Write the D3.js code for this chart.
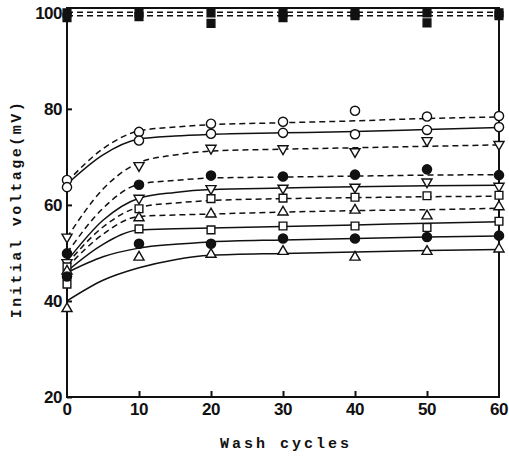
<!DOCTYPE html>
<html><head><meta charset="utf-8">
<script src="https://cdn.jsdelivr.net/npm/d3@7"></script>
<style>body{margin:0;background:#fff}svg{display:block}</style>
</head><body>
<script>
const xCycles = [0,10,20,30,40,50,60];
const fitX    = [0,5,10,15,20,30,40,50,60];
const yTicks = [20,40,60,80,100];
const xTicks = [0,10,20,30,40,50,60];

// measured points
const circDashPts   = [65.2,75.2,76.9,77.3,79.6,78.4,78.5];
const circSolidPts  = [63.7,73.4,74.8,75.0,74.7,75.6,76.2];
const triDnDashPts  = [53.3,68.2,71.8,71.7,71.1,73.4,72.6];
const dotDashPts    = [49.9,64.2,66.1,65.9,66.3,67.4,66.2];
const triDnSolidPts = [48.0,61.4,63.4,63.5,63.7,64.8,63.9];
const sqDashPts     = [47.1,59.2,61.3,61.4,61.6,61.9,62.0];
const triUpDashPts  = [46.2,57.3,58.1,58.5,58.9,57.7,59.6];
const sqSolidPts    = [43.5,55.0,54.8,55.6,55.6,55.3,56.6];
const dotSolidPts   = [45.1,51.9,51.9,53.0,53.0,53.3,53.6];
const triUpSolidPts = [38.4,49.1,49.7,50.3,49.1,50.3,50.8];
const topAPts       = [100.0,100.0,100.0,100.0,100.0,100.0,100.0];
const topBPts       = [99.0,99.2,97.8,99.0,99.4,97.9,99.4];

// fitted curves (read at fitX)
const circDashFit   = [64.8,71.7,75.4,76.2,76.7,77.1,77.5,78.0,78.3];
const circSolidFit  = [64.3,70.4,73.7,74.35,74.7,75.0,75.3,75.7,76.1];
const triDnDashFit  = [53.2,63.3,68.8,70.4,71.2,71.6,71.9,72.2,72.5];
const dotDashFit    = [50.0,59.3,64.3,65.1,65.6,65.8,66.0,66.2,66.3];
const triDnSolidFit = [48.3,56.8,61.4,62.6,63.2,63.5,63.8,64.0,64.1];
const sqDashFit     = [47.7,55.4,59.5,60.4,60.9,61.3,61.5,61.7,61.8];
const triUpDashFit  = [47.0,53.9,57.6,57.9,58.1,58.5,58.8,59.0,59.3];
const sqSolidFit    = [46.2,51.8,54.8,55.05,55.2,55.5,55.8,56.2,56.5];
const dotSolidFit   = [45.9,49.2,51.0,51.8,52.3,52.7,53.0,53.3,53.5];
const triUpSolidFit = [40.0,44.3,46.9,48.6,49.5,49.9,50.2,50.5,50.7];
const topAFit       = [100.1,100.1,100.1,100.1,100.1,100.1,100.1,100.1,100.1];
const topBFit       = [99.4,99.4,99.4,99.4,99.4,99.4,99.4,99.4,99.4];

const series = [
  {pts:circDashPts,   fit:circDashFit,   m:"circle", filled:false, dash:true},
  {pts:circSolidPts,  fit:circSolidFit,  m:"circle", filled:false, dash:false},
  {pts:triDnDashPts,  fit:triDnDashFit,  m:"tridown",filled:false, dash:true},
  {pts:dotDashPts,    fit:dotDashFit,    m:"circle", filled:true,  dash:true},
  {pts:triDnSolidPts, fit:triDnSolidFit, m:"tridown",filled:false, dash:false},
  {pts:sqDashPts,     fit:sqDashFit,     m:"square", filled:false, dash:true},
  {pts:triUpDashPts,  fit:triUpDashFit,  m:"triup",  filled:false, dash:true},
  {pts:sqSolidPts,    fit:sqSolidFit,    m:"square", filled:false, dash:false},
  {pts:dotSolidPts,   fit:dotSolidFit,   m:"circle", filled:true,  dash:false},
  {pts:triUpSolidPts, fit:triUpSolidFit, m:"triup",  filled:false, dash:false},
  {pts:topAPts,       fit:topAFit,       m:"square", filled:true,  dash:true},
  {pts:topBPts,       fit:topBFit,       m:"square", filled:true,  dash:true}
];

const W=509,H=457;
const svg=d3.select("body").append("svg").attr("width",W).attr("height",H);
const x=d3.scaleLinear().domain([0,60]).range([67,499]);
const y=d3.scaleLinear().domain([20,101]).range([397,8]);
const ink="#111";

// lines
const line=d3.line().x((d,i)=>x(fitX[i])).y(d=>y(d)).curve(d3.curveMonotoneX);
series.forEach(s=>{
  svg.append("path").attr("d",line(s.fit)).attr("fill","none")
    .attr("stroke",ink).attr("stroke-width",1.5)
    .attr("stroke-dasharray",s.dash?"6,4":null);
});

// frame
svg.append("rect").attr("x",x(0)).attr("y",y(101)).attr("width",x(60)-x(0)).attr("height",y(20)-y(101))
  .attr("fill","none").attr("stroke",ink).attr("stroke-width",2);

// axes
const yAx=d3.axisRight(y).tickValues(yTicks).tickSize(5).tickFormat("");
svg.append("g").attr("transform",`translate(${x(0)},0)`).call(yAx)
  .call(g=>g.select(".domain").remove()).selectAll("line").attr("stroke",ink).attr("stroke-width",2);
const xAx=d3.axisTop(x).tickValues(xTicks.slice(1,-1)).tickSize(6).tickFormat("");
svg.append("g").attr("transform",`translate(0,${y(20)})`).call(xAx)
  .call(g=>g.select(".domain").remove()).selectAll("line").attr("stroke",ink).attr("stroke-width",2);

// tick labels
svg.append("g").selectAll("text").data(yTicks).join("text")
  .attr("x",x(0)-5).attr("y",d=>y(d)).attr("dy","0.36em").attr("text-anchor","end")
  .attr("font-family","Liberation Sans, Arial, sans-serif").attr("font-size",17).attr("font-weight","bold")
  .attr("fill",ink).attr("letter-spacing",-0.5).text(d=>d);
svg.append("g").selectAll("text").data(xTicks).join("text")
  .attr("x",d=>x(d)).attr("y",y(20)+18).attr("text-anchor","middle")
  .attr("font-family","Liberation Sans, Arial, sans-serif").attr("font-size",17).attr("font-weight","bold")
  .attr("fill",ink).attr("letter-spacing",-0.5).text(d=>d);

// titles
svg.append("text").attr("x",286).attr("y",448).attr("text-anchor","middle")
  .attr("font-family","Liberation Mono, Courier New, monospace").attr("font-size",15).attr("font-weight","bold")
  .attr("letter-spacing",3).attr("fill",ink).text("Wash cycles");
svg.append("text").attr("transform","translate(21,209) rotate(-90)").attr("text-anchor","middle")
  .attr("font-family","Liberation Mono, Courier New, monospace").attr("font-size",15).attr("font-weight","bold")
  .attr("letter-spacing",2.5).attr("fill",ink).text("Initial voltage(mV)");

// markers
const sym={circle:d3.symbolCircle,square:d3.symbolSquare,triup:d3.symbolTriangle,tridown:d3.symbolTriangle};
series.forEach(s=>{
  const size = s.m==="circle"?66:(s.m==="square"?60:44);
  const gen=d3.symbol().type(sym[s.m]).size(size);
  svg.append("g").selectAll("path").data(s.pts).join("path")
    .attr("d",gen)
    .attr("transform",(d,i)=>`translate(${x(xCycles[i])},${y(d)})${s.m==="tridown"?" rotate(180)":""}`)
    .attr("fill",s.filled?ink:"#fff").attr("stroke",ink).attr("stroke-width",1.4);
});
</script>
</body></html>
